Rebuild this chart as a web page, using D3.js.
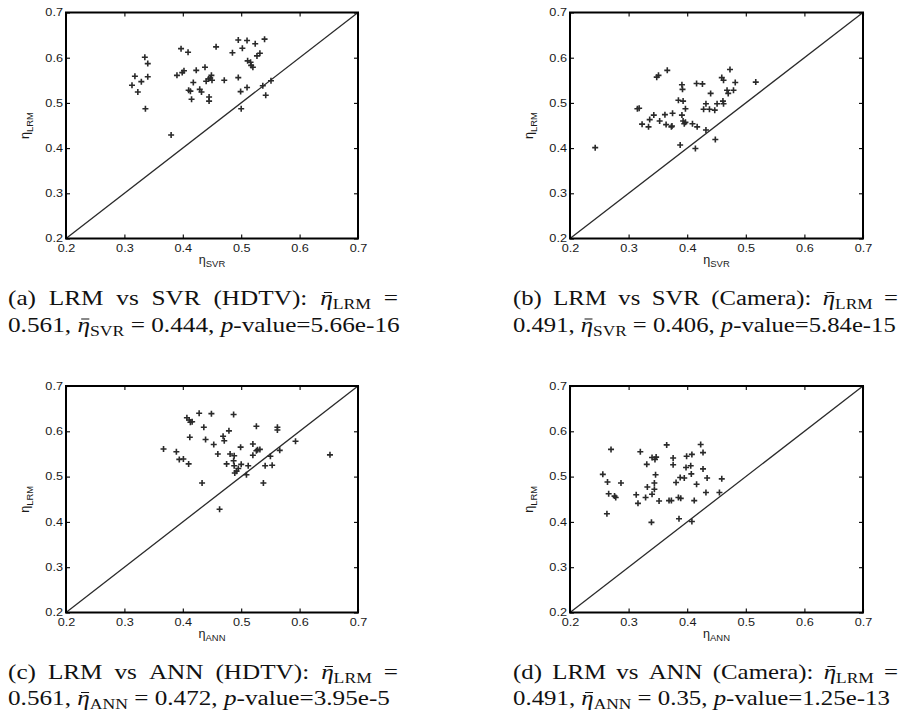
<!DOCTYPE html>
<html><head><meta charset="utf-8">
<script src="https://cdn.jsdelivr.net/npm/d3@7"></script>
<style>body{margin:0;background:#fff}svg text{white-space:pre}</style>
</head><body>
<svg id="c" width="906" height="713"></svg>
<script>
// ---------- data ----------
const tickValues = [0.2, 0.3, 0.4, 0.5, 0.6, 0.7];
const tickLabels = ["0.2", "0.3", "0.4", "0.5", "0.6", "0.7"];

// (a) LRM vs SVR (HDTV)
const svrHdtv = [0.335,0.340,0.340,0.318,0.313,0.329,0.323,0.336,0.380,0.397,0.409,0.390,0.399,0.402,0.423,0.438,0.418,0.410,0.413,0.415,0.429,0.432,0.440,0.447,0.449,0.450,0.445,0.445,0.444,0.457,0.471,0.485,0.495,0.510,0.502,0.524,0.540,0.495,0.499,0.500,0.510,0.511,0.516,0.517,0.520,0.527,0.532,0.537,0.542,0.551];
const lrmHdtvA = [0.601,0.587,0.558,0.559,0.539,0.547,0.524,0.487,0.429,0.620,0.612,0.561,0.567,0.571,0.572,0.579,0.545,0.528,0.526,0.508,0.530,0.524,0.548,0.555,0.561,0.550,0.513,0.504,0.553,0.624,0.550,0.611,0.639,0.638,0.621,0.631,0.641,0.556,0.525,0.487,0.534,0.593,0.590,0.583,0.579,0.604,0.610,0.538,0.517,0.549];

// (b) LRM vs SVR (Camera)
const svrCam = [0.243,0.315,0.318,0.323,0.334,0.336,0.343,0.348,0.351,0.353,0.362,0.364,0.366,0.373,0.375,0.374,0.385,0.388,0.391,0.392,0.393,0.391,0.393,0.395,0.397,0.397,0.409,0.414,0.416,0.417,0.426,0.428,0.432,0.432,0.438,0.440,0.447,0.448,0.451,0.459,0.462,0.461,0.462,0.468,0.470,0.473,0.479,0.482,0.517];
const lrmCamB = [0.401,0.487,0.488,0.453,0.447,0.463,0.473,0.557,0.561,0.460,0.474,0.452,0.572,0.447,0.477,0.449,0.506,0.407,0.540,0.530,0.504,0.473,0.460,0.454,0.457,0.487,0.454,0.399,0.543,0.447,0.542,0.486,0.440,0.498,0.486,0.521,0.484,0.419,0.498,0.556,0.550,0.504,0.498,0.528,0.521,0.574,0.528,0.545,0.546];

// (c) LRM vs ANN (HDTV)
const annHdtv = [0.367,0.389,0.394,0.401,0.410,0.412,0.407,0.411,0.413,0.416,0.428,0.436,0.439,0.433,0.449,0.453,0.460,0.463,0.469,0.471,0.475,0.479,0.481,0.487,0.487,0.488,0.488,0.489,0.492,0.495,0.499,0.500,0.509,0.512,0.520,0.520,0.526,0.526,0.528,0.532,0.538,0.541,0.550,0.553,0.562,0.562,0.566,0.593,0.652];
const lrmHdtvC = [0.561,0.555,0.538,0.539,0.528,0.587,0.630,0.625,0.620,0.621,0.640,0.609,0.582,0.486,0.639,0.571,0.550,0.428,0.589,0.579,0.528,0.601,0.550,0.637,0.535,0.546,0.524,0.508,0.512,0.518,0.565,0.527,0.504,0.524,0.572,0.547,0.611,0.557,0.559,0.560,0.486,0.524,0.545,0.525,0.609,0.603,0.558,0.578,0.548];

// (d) LRM vs ANN (Camera)
const annCam = [0.256,0.264,0.266,0.263,0.270,0.276,0.278,0.287,0.313,0.316,0.320,0.329,0.331,0.332,0.339,0.340,0.340,0.344,0.344,0.345,0.347,0.346,0.352,0.365,0.369,0.373,0.376,0.376,0.381,0.385,0.389,0.386,0.388,0.395,0.398,0.399,0.406,0.408,0.407,0.408,0.412,0.416,0.423,0.427,0.427,0.432,0.434,0.455,0.459];
const lrmCamD = [0.505,0.488,0.462,0.418,0.560,0.457,0.454,0.486,0.460,0.441,0.555,0.454,0.527,0.477,0.399,0.461,0.542,0.486,0.472,0.538,0.543,0.504,0.446,0.570,0.447,0.447,0.541,0.526,0.487,0.454,0.452,0.407,0.498,0.497,0.520,0.545,0.524,0.549,0.506,0.401,0.447,0.483,0.571,0.553,0.517,0.465,0.497,0.465,0.495];

const xSubs = ["SVR", "SVR", "ANN", "ANN"];
const ySub = "LRM";
const captionLabels = ["(a)", "(b)", "(c)", "(d)"];
const captionMethods = ["SVR", "SVR", "ANN", "ANN"];
const captionSets = ["(HDTV):", "(Camera):", "(HDTV):", "(Camera):"];
const meanLrm = ["0.561", "0.491", "0.561", "0.491"];
const meanOther = ["0.444", "0.406", "0.472", "0.35"];
const pValues = ["5.66e-16", "5.84e-15", "3.95e-5", "1.25e-13"];

// ---------- layout ----------
const svg = d3.select("#c");
const SANS = "'Liberation Sans', Arial, Helvetica, sans-serif";
const SERIF = "'Liberation Serif', 'Times New Roman', serif";
const TSX = 1.22;

const panels = [
  {xs: svrHdtv, ys: lrmHdtvA, left: 66,  top: 12.5, w: 292, h: 226, cx0: 8,   cx1: 398, end2: 400, b1: 305, b2: 331.5},
  {xs: svrCam,  ys: lrmCamB,  left: 570, top: 12.5, w: 293, h: 226, cx0: 513, cx1: 898, end2: 896, b1: 305, b2: 331.5},
  {xs: annHdtv, ys: lrmHdtvC, left: 66,  top: 386,  w: 292, h: 226.5, cx0: 8,   cx1: 398, end2: 390, b1: 679, b2: 705},
  {xs: annCam,  ys: lrmCamD,  left: 570, top: 386,  w: 293, h: 226.5, cx0: 513, cx1: 898, end2: 890, b1: 679, b2: 705}
];

const bars = [];
function fillText(text, segs, subFs, subDy) {
  let shift = 0, idx = 0;
  segs.forEach(s => {
    const ts = text.append("tspan").text(s.t);
    const target = s.sub ? subDy : 0;
    if (target !== shift) { ts.attr("dy", target - shift); shift = target; }
    if (s.sub) ts.attr("font-size", subFs);
    if (s.it) ts.attr("font-style", "italic");
    if (s.bar) bars.push({text, idx});
    idx += s.t.length;
  });
}

function styleAxis(sel) {
  sel.select(".domain").remove();
  sel.selectAll(".tick line").attr("stroke", "#000").attr("stroke-width", 1.1);
  sel.selectAll(".tick text")
    .attr("font-family", SANS).attr("font-size", 10.4).attr("fill", "#1a1a1a")
    .attr("transform", `scale(${TSX},1)`);
}

panels.forEach((p, i) => {
  const g = svg.append("g").attr("transform", `translate(${p.left},${p.top})`);
  const x = d3.scaleLinear().domain([0.2, 0.7]).range([0, p.w]);
  const y = d3.scaleLinear().domain([0.2, 0.7]).range([p.h, 0]);
  const fmt = (d) => tickLabels[tickValues.indexOf(d)];

  g.append("g").attr("transform", `translate(0,${p.h})`)
    .call(d3.axisBottom(x).tickValues(tickValues).tickFormat(fmt).tickSizeInner(-4).tickSizeOuter(0).tickPadding(6.5))
    .call(styleAxis);
  g.append("g")
    .call(d3.axisLeft(y).tickValues(tickValues).tickFormat(fmt).tickSizeInner(-4).tickSizeOuter(0).tickPadding(3 / TSX))
    .call(styleAxis);
  g.append("g")
    .call(d3.axisTop(x).tickValues(tickValues).tickFormat(() => "").tickSizeInner(-4).tickSizeOuter(0))
    .call(styleAxis);
  g.append("g").attr("transform", `translate(${p.w},0)`)
    .call(d3.axisRight(y).tickValues(tickValues).tickFormat(() => "").tickSizeInner(-4).tickSizeOuter(0))
    .call(styleAxis);

  // diagonal
  g.append("line")
    .attr("x1", x(0.2)).attr("y1", y(0.2)).attr("x2", x(0.7)).attr("y2", y(0.7))
    .attr("stroke", "#2a2a2a").attr("stroke-width", 1.3);

  // frame
  g.append("rect").attr("x", 0).attr("y", 0).attr("width", p.w).attr("height", p.h)
    .attr("fill", "none").attr("stroke", "#000").attr("stroke-width", 2);

  // points
  const pts = p.xs.map((v, k) => [v, p.ys[k]]);
  g.append("g").selectAll("path").data(pts).join("path")
    .attr("d", "M-3,0H3M0,-3V3")
    .attr("transform", d => `translate(${x(d[0])},${y(d[1])})`)
    .attr("stroke", "#2a2a2a").attr("stroke-width", 1.6).attr("fill", "none");

  // x label
  const xl = g.append("text").attr("font-family", SANS).attr("font-size", 12).attr("fill", "#1a1a1a")
    .attr("text-anchor", "middle")
    .attr("transform", `translate(${p.w / 2},${p.h + 25}) scale(1.05,1)`);
  fillText(xl, [{t: "η"}, {t: xSubs[i], sub: 1}], 9, 3.5);

  // y label
  const yl = g.append("text").attr("font-family", SANS).attr("font-size", 12).attr("fill", "#1a1a1a")
    .attr("text-anchor", "middle")
    .attr("transform", `translate(-37,${p.h / 2}) rotate(-90) scale(1.05,1)`);
  fillText(yl, [{t: "η"}, {t: ySub, sub: 1}], 9, 3.5);

  // caption
  const cap = svg.append("g").attr("font-family", SERIF).attr("font-size", 20).attr("fill", "#111");
  const seg2 = [{t: meanLrm[i] + ", "}, {t: "η", it: 1, bar: 1}, {t: captionMethods[i], sub: 1},
                {t: " = " + meanOther[i] + ", "}, {t: "p", it: 1}, {t: "-value=" + pValues[i]}];
  const g2 = cap.append("g");
  const t2 = g2.append("text");
  fillText(t2, seg2, 14, 4);
  const w2 = t2.node().getComputedTextLength();
  const sx = (p.end2 - p.cx0) / w2;
  g2.attr("transform", `translate(${p.cx0},${p.b2}) scale(${sx},1)`);

  const tokens1 = [
    [{t: captionLabels[i]}], [{t: "LRM"}], [{t: "vs"}], [{t: captionMethods[i]}], [{t: captionSets[i]}],
    [{t: "η", it: 1, bar: 1}, {t: "LRM", sub: 1}], [{t: "="}]
  ];
  const g1 = cap.append("g").attr("transform", `translate(${p.cx0},${p.b1}) scale(${sx},1)`);
  const texts = tokens1.map(tok => { const t = g1.append("text"); fillText(t, tok, 14, 4); return t; });
  const widths = texts.map(t => t.node().getComputedTextLength());
  const total = (p.cx1 - p.cx0) / sx;
  const gap = (total - d3.sum(widths)) / (texts.length - 1);
  let cur = 0;
  texts.forEach((t, k) => { t.attr("x", cur); cur += widths[k] + gap; });
});

// macron bars over η
bars.forEach(b => {
  const ext = b.text.node().getExtentOfChar(b.idx);
  const parent = d3.select(b.text.node().parentNode);
  parent.append("line")
    .attr("x1", ext.x + ext.width * 0.3).attr("x2", ext.x + ext.width * 0.95)
    .attr("y1", -12.5).attr("y2", -12.5)
    .attr("stroke", "#111").attr("stroke-width", 1);
});
</script>
</body></html>
